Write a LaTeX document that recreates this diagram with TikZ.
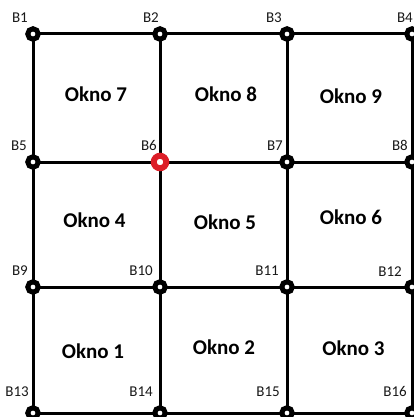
\documentclass[tikz,border=0pt]{standalone}
\usepackage{fontspec}
\setmainfont{Carlito}
\usetikzlibrary{calc}
\definecolor{ptred}{RGB}{220,30,40}
\tikzset{
  pt/.style={circle, draw=black, fill=white, line width=5pt, minimum size=10.5pt, inner sep=0pt},
  ptr/.style={pt, draw=ptred, line width=6pt, minimum size=12.5pt},
  blab/.style={anchor=south east, font=\fontsize{15}{15}\selectfont, text=black!90, inner sep=0pt},
  okno/.style={font=\fontsize{21}{21}\selectfont\bfseries, text=black},
  grid/.style={line width=3pt, black}
}
\begin{document}
\begin{tikzpicture}[x=1pt,y=-1pt]
\useasboundingbox (0,0) rectangle (414,417);
\fill[white] (0,0) rectangle (414,417);
% coordinates
\coordinate (P1) at (33,34);  \coordinate (P2) at (160,34);  \coordinate (P3) at (287,34);  \coordinate (P4) at (412,34);
\coordinate (P5) at (33,162); \coordinate (P6) at (160,162); \coordinate (P7) at (287,162); \coordinate (P8) at (412,162);
\coordinate (P9) at (33,287); \coordinate (P10) at (160,287);\coordinate (P11) at (287,287);\coordinate (P12) at (412,287);
\coordinate (P13) at (33,413);\coordinate (P14) at (160,413);\coordinate (P15) at (287,413);\coordinate (P16) at (412,413);
% grid lines
\foreach \a/\b in {1/4,5/8,9/12,13/16,1/13,2/14,3/15,4/16}
  \draw[grid] (P\a) -- (P\b);
% points
\foreach \i in {1,2,3,4,5,7,8,9,10,11,12,13,14,15,16}
  \node[pt] (B\i) at (P\i) {};
\node[ptr] (B6) at (P6) {};
% labels
\node[blab] (L1) at ($(P1)+(-5,-11)$) {B1};
\node[blab] (L2) at ($(P2)+(-1,-11)$) {B2};
\node[blab] (L3) at ($(P3)+(-5,-11)$) {B3};
\node[blab] (L4) at ($(P4)+(1,-11)$) {B4};
\node[blab] (L5) at ($(P5)+(-6,-11)$) {B5};
\node[blab] (L6) at ($(P6)+(-3,-11)$) {B6};
\node[blab] (L7) at ($(P7)+(-4,-11)$) {B7};
\node[blab] (L8) at ($(P8)+(-4,-11)$) {B8};
\node[blab] (L9) at ($(P9)+(-5,-11)$) {B9};
\node[blab] (L10) at ($(P10)+(-7,-11)$) {B10};
\node[blab] (L11) at ($(P11)+(-8,-11)$) {B11};
\node[blab] (L12) at ($(P12)+(-10,-10)$) {B12};
\node[blab] (L13) at ($(P13)+(-4,-16)$) {B13};
\node[blab] (L14) at ($(P14)+(-7,-16)$) {B14};
\node[blab] (L15) at ($(P15)+(-7,-16)$) {B15};
\node[blab] (L16) at ($(P16)+(-5,-16)$) {B16};
% window labels
\node[okno] (O7) at (96,94.5) {Okno 7};
\node[okno] (O8) at (226,94.5) {Okno 8};
\node[okno] (O9) at (351,96.5) {Okno 9};
\node[okno] (O4) at (94.5,220) {Okno 4};
\node[okno] (O5) at (225,222.5) {Okno 5};
\node[okno] (O6) at (351,217.5) {Okno 6};
\node[okno] (O1) at (93,351.5) {Okno 1};
\node[okno] (O2) at (224,347.5) {Okno 2};
\node[okno] (O3) at (353.5,348.5) {Okno 3};
\end{tikzpicture}
\end{document}
